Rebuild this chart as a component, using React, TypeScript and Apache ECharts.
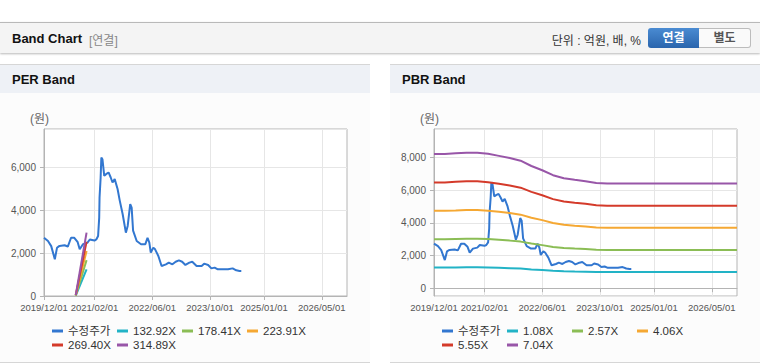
import React, { useEffect, useRef } from 'react';
import * as echarts from 'echarts';

// ---- axis / tick labels ----
const TICK_LABELS = ['2019/12/01', '2021/02/01', '2022/06/01', '2023/10/01', '2025/01/01', '2026/05/01'];
const AXIS_MONTHS = 84; // 2019/12/01 .. 2026/12/01

// ---- adjusted share price (수정주가) ----
const PRICE_DATES = [
  '2019/12/01', '2020/01/04', '2020/02/01', '2020/03/01', '2020/03/19', '2020/04/10', '2020/05/22', '2020/06/19',
  '2020/07/16', '2020/08/13', '2020/09/10', '2020/09/28', '2020/10/25', '2020/12/01', '2020/12/22', '2021/02/01',
  '2021/02/16', '2021/03/01', '2021/03/10', '2021/03/13', '2021/03/22', '2021/03/28', '2021/04/07', '2021/04/16',
  '2021/04/22', '2021/05/07', '2021/05/28', '2021/06/16', '2021/07/01', '2021/07/19', '2021/08/13', '2021/09/01',
  '2021/09/25', '2021/10/22', '2021/11/07', '2021/11/28', '2021/12/10', '2021/12/22', '2022/01/22', '2022/02/28',
  '2022/04/04', '2022/04/22', '2022/05/07', '2022/05/19', '2022/06/10', '2022/06/25', '2022/07/22', '2022/08/19',
  '2022/09/25', '2022/10/19', '2022/11/19', '2022/12/16', '2023/01/13', '2023/02/10', '2023/03/07', '2023/04/10',
  '2023/05/04', '2023/06/10', '2023/07/22', '2023/08/13', '2023/09/16', '2023/10/13', '2023/11/10', '2023/12/07',
  '2024/01/19', '2024/03/01', '2024/04/10', '2024/05/10', '2024/06/07', '2024/06/22',
];
const PRICE_VALUES = [
  2725, 2570, 2330, 1715, 2250, 2340, 2370, 2310,
  2720, 2720, 2530, 2180, 2420, 2480, 2640, 2590,
  2640, 2800, 3650, 4600, 5520, 6465, 6390, 5930,
  5610, 5690, 5770, 5535, 5300, 5460, 5000, 4455,
  3830, 2960, 3270, 4290, 4130, 3050, 2570, 2420,
  2420, 2720, 2490, 2025, 2260, 2180, 1870, 1400,
  1480, 1560, 1480, 1600, 1665, 1600, 1450, 1560,
  1600, 1400, 1400, 1510, 1450, 1290, 1325, 1245,
  1245, 1245, 1290, 1200, 1170, 1170,
];

// ---- PER band ----
const PER_NAMES = ['132.92X', '178.41X', '223.91X', '269.40X', '314.89X'];
const PER_BAND_DATES = ['2020/08/25', '2020/11/25'];
const PER_132 = [20, 1249];
const PER_178 = [27, 1677];
const PER_224 = [34, 2105];
const PER_269 = [40, 2532];
const PER_315 = [47, 2960];

// ---- PBR band ----
const PBR_NAMES = ['1.08X', '2.57X', '4.06X', '5.55X', '7.04X'];
const PBR_BAND_DATES = [
  '2019/12/01', '2020/03/01', '2020/06/01', '2020/09/01', '2020/12/01', '2021/03/01', '2021/06/01', '2021/09/01',
  '2021/12/01', '2022/03/01', '2022/06/01', '2022/09/01', '2022/12/01', '2023/03/01', '2023/06/01', '2023/09/01',
  '2023/12/01', '2026/12/01',
];
const PBR_108 = [1259, 1259, 1266, 1272, 1272, 1261, 1242, 1223, 1197, 1147, 1107, 1061, 1031, 1017, 1004, 988, 982, 982];
const PBR_257 = [2997, 2997, 3012, 3027, 3027, 3002, 2956, 2909, 2848, 2729, 2634, 2524, 2454, 2421, 2390, 2352, 2336, 2336];
const PBR_406 = [4734, 4734, 4758, 4783, 4783, 4742, 4669, 4596, 4498, 4312, 4162, 3987, 3877, 3825, 3776, 3715, 3691, 3691];
const PBR_555 = [6471, 6471, 6505, 6538, 6538, 6482, 6383, 6283, 6149, 5894, 5689, 5450, 5300, 5228, 5162, 5078, 5045, 5045];
const PBR_704 = [8209, 8209, 8251, 8293, 8293, 8223, 8096, 7969, 7800, 7476, 7216, 6913, 6723, 6632, 6547, 6442, 6399, 6399];

const PRICE_NAME = '수정주가';
const PRICE_COLOR = '#3277d0';
const BAND_COLORS = ['#22b3c6', '#8bbd55', '#f5a833', '#d43a2a', '#9856a8'];

const SANS = "'Liberation Sans', Arial, 'Noto Sans CJK KR', sans-serif";

function monthIndex(d: string): number {
  const [y, m, dd] = d.split('/').map(Number);
  return (y - 2019) * 12 + (m - 12) + (dd - 1) / 30;
}

function monthCategories(): string[] {
  const out: string[] = [];
  for (let i = 0; i <= AXIS_MONTHS; i++) {
    const y = 2019 + Math.floor((11 + i) / 12);
    const m = ((11 + i) % 12) + 1;
    out.push(`${y}/${String(m).padStart(2, '0')}/01`);
  }
  return out;
}

function buildOption(
  names: string[],
  dates: string[],
  bands: number[][],
  yMin: number,
  yMax: number,
): any {
  const cats = monthCategories();
  const showTick = (_i: number, v: string) => TICK_LABELS.includes(v);
  const series: any[] = [
    {
      name: PRICE_NAME,
      type: 'line',
      xAxisIndex: 1,
      yAxisIndex: 0,
      showSymbol: false,
      color: PRICE_COLOR,
      lineStyle: { width: 2, color: PRICE_COLOR },
      data: PRICE_DATES.map((d, i) => [monthIndex(d), PRICE_VALUES[i]]),
    },
  ];
  bands.forEach((vals, k) => {
    series.push({
      name: names[k],
      type: 'line',
      xAxisIndex: 1,
      yAxisIndex: 0,
      showSymbol: false,
      color: BAND_COLORS[k],
      lineStyle: { width: 2, color: BAND_COLORS[k] },
      data: dates.map((d, i) => [monthIndex(d), vals[i]]),
    });
  });
  return {
    animation: false,
    backgroundColor: 'transparent',
    grid: {
      left: 44,
      right: 23,
      top: 35,
      bottom: 68,
      show: true,
      backgroundColor: '#ffffff',
      borderColor: '#b4b4b4',
      borderWidth: 1,
    },
    graphic: [
      {
        type: 'text',
        left: 30,
        top: 19,
        style: { text: '(원)', fill: '#666', font: `12px ${SANS}` },
      },
    ],
    legend: {
      left: 52,
      top: 230,
      width: 270,
      itemGap: 0,
      itemWidth: 11,
      itemHeight: 3,
      icon: 'rect',
      padding: 0,
      data: [PRICE_NAME, ...names],
      textStyle: { color: '#333', fontSize: 11.5, fontFamily: SANS, width: 49, lineHeight: 14 },
    },
    xAxis: [
      {
        type: 'category',
        data: cats,
        boundaryGap: false,
        axisLine: { show: true, lineStyle: { color: '#b4b4b4' } },
        axisTick: { show: true, interval: showTick, length: 4, lineStyle: { color: '#b4b4b4' } },
        axisLabel: {
          interval: showTick,
          showMinLabel: true,
          showMaxLabel: true,
          color: '#555',
          fontSize: 9.5,
          fontFamily: SANS,
          margin: 7,
        },
        splitLine: { show: true, interval: showTick, lineStyle: { color: '#e6e6e6' } },
      },
      { type: 'value', min: 0, max: AXIS_MONTHS, show: false },
    ],
    yAxis: {
      type: 'value',
      min: yMin,
      max: yMax,
      splitNumber: 5,
      axisLine: { show: true, lineStyle: { color: '#b4b4b4' } },
      axisTick: { show: true, length: 4, lineStyle: { color: '#b4b4b4' } },
      axisLabel: {
        color: '#555',
        fontSize: 10,
        fontFamily: SANS,
        margin: 8,
        showMinLabel: yMin === 0,
        showMaxLabel: false,
        formatter: (v: number) => v.toLocaleString('en-US'),
      },
      splitLine: { show: true, lineStyle: { color: '#e6e6e6' } },
    },
    series,
  };
}

function Chart({ option }: { option: any }) {
  const ref = useRef<HTMLDivElement>(null);
  useEffect(() => {
    if (!ref.current) return;
    const chart = echarts.init(ref.current, undefined, { renderer: 'svg' });
    chart.setOption(option);
    return () => chart.dispose();
  }, [option]);
  return <div ref={ref} style={{ position: 'absolute', left: 0, top: 29, width: 370, height: 270 }} />;
}

const perOption = buildOption(PER_NAMES, PER_BAND_DATES, [PER_132, PER_178, PER_224, PER_269, PER_315], 0, 7800);
const pbrOption = buildOption(PBR_NAMES, PBR_BAND_DATES, [PBR_108, PBR_257, PBR_406, PBR_555, PBR_704], -480, 9740);

function Panel({ left, title, option }: { left: number; title: string; option: any }) {
  return (
    <div
      style={{
        position: 'absolute',
        left,
        top: 64,
        width: 370,
        height: 299,
        background: '#fcfcfc',
        borderTop: '1px solid #d6d6d6',
        borderBottom: '1px solid #d6d6d6',
        boxSizing: 'border-box',
      }}
    >
      <div
        style={{
          position: 'absolute',
          left: 0,
          top: 0,
          width: 370,
          height: 28,
          background: '#eef1f6',
          fontFamily: SANS,
          fontWeight: 'bold',
          fontSize: 13,
          color: '#111',
          lineHeight: '30px',
          paddingLeft: 12,
          boxSizing: 'border-box',
        }}
      >
        {title}
      </div>
      <Chart option={option} />
    </div>
  );
}

export default function App() {
  return (
    <div
      style={{
        position: 'absolute',
        left: 0,
        top: 0,
        width: 760,
        height: 364,
        background: '#fff',
        overflow: 'hidden',
        fontFamily: SANS,
      }}
    >
      <div
        style={{
          position: 'absolute',
          left: 0,
          top: 22,
          width: 760,
          height: 31,
          background: '#f4f4f4',
          borderTop: '1px solid #b9b9b9',
          boxSizing: 'border-box',
          boxShadow: '0 1px 2px rgba(0,0,0,0.28)',
        }}
      >
        <span style={{ position: 'absolute', left: 12, top: 8, fontSize: 13, fontWeight: 'bold', color: '#111' }}>
          Band Chart
        </span>
        <span style={{ position: 'absolute', left: 89, top: 8, fontSize: 12, color: '#888' }}>[연결]</span>
        <span style={{ position: 'absolute', right: 119, top: 8, fontSize: 12, color: '#333' }}>단위 : 억원, 배, %</span>
        <div
          style={{
            position: 'absolute',
            left: 648,
            top: 5,
            width: 51,
            height: 20,
            borderRadius: '3px 0 0 3px',
            background: 'linear-gradient(#4a8bd2, #2a65ad)',
            color: '#fff',
            fontSize: 12,
            fontWeight: 'bold',
            textAlign: 'center',
            lineHeight: '20px',
          }}
        >
          연결
        </div>
        <div
          style={{
            position: 'absolute',
            left: 699,
            top: 5,
            width: 52,
            height: 20,
            borderRadius: '0 3px 3px 0',
            background: '#fafafa',
            border: '1px solid #bcbcbc',
            borderLeft: 'none',
            boxSizing: 'border-box',
            color: '#555',
            fontSize: 12,
            fontWeight: 'bold',
            textAlign: 'center',
            lineHeight: '18px',
          }}
        >
          별도
        </div>
      </div>
      <Panel left={0} title="PER Band" option={perOption} />
      <Panel left={390} title="PBR Band" option={pbrOption} />
    </div>
  );
}
